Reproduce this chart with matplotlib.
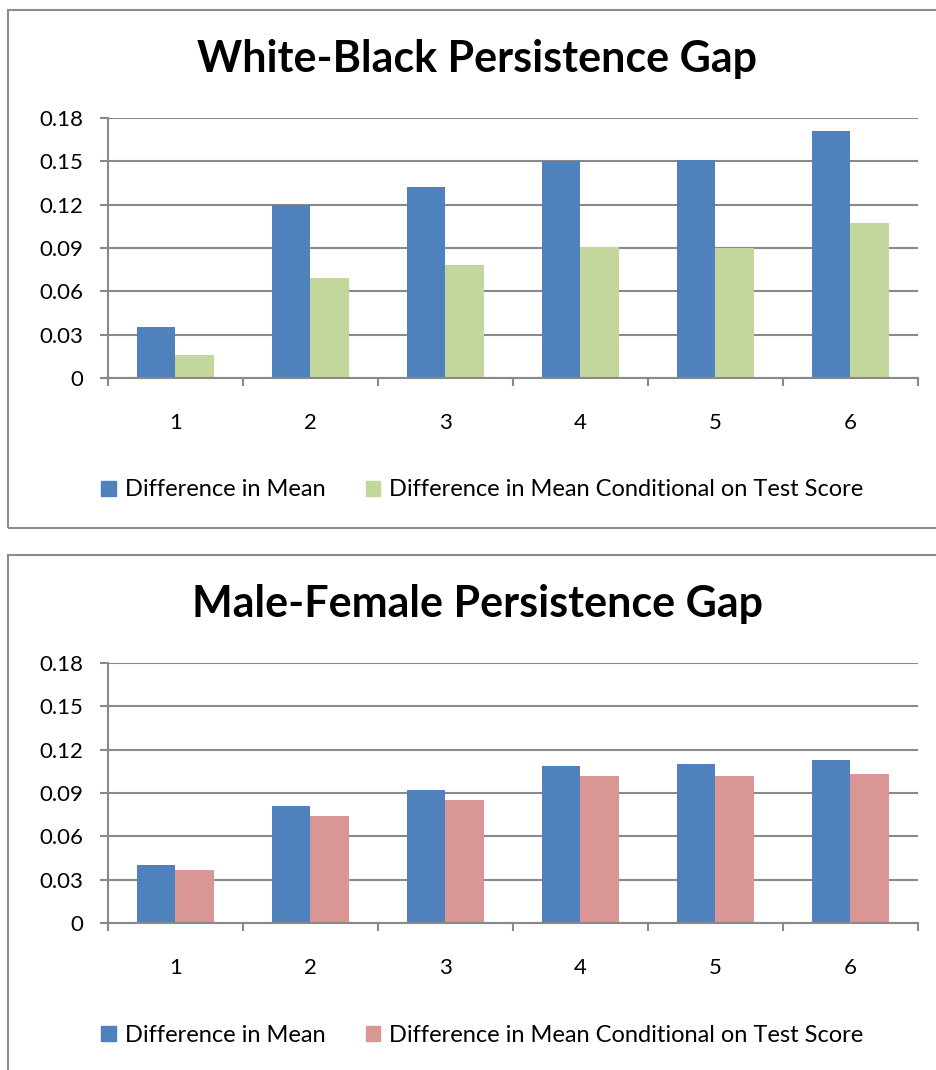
import matplotlib.pyplot as plt
import numpy as np
from matplotlib.patches import Rectangle, Patch

groups = ['1', '2', '3', '4', '5', '6']
series_names = ['Difference in Mean', 'Difference in Mean Conditional on Test Score']

wb_mean = [0.035, 0.120, 0.132, 0.150, 0.151, 0.171]
wb_cond = [0.016, 0.069, 0.078, 0.091, 0.090, 0.107]
mf_mean = [0.040, 0.081, 0.092, 0.109, 0.110, 0.113]
mf_cond = [0.037, 0.074, 0.085, 0.102, 0.102, 0.103]
y_ticks = [0, 0.03, 0.06, 0.09, 0.12, 0.15, 0.18]
y_labels = ['0', '0.03', '0.06', '0.09', '0.12', '0.15', '0.18']

blue = '#4F81BD'
green = '#C3D69B'
pink = '#D99694'
gray = '#898989'

plt.rcParams['font.family'] = ['Lato', 'DejaVu Sans']

W, H = 937, 1070
fig = plt.figure(figsize=(W / 100, H / 100), dpi=100)

# panel frames, in pixels of the final image
for top_px, bot_px in [(10, 528), (555, 1075)]:
    fig.patches.append(Rectangle((8 / W, 1 - bot_px / H), 1.0,
                                 (bot_px - top_px) / H,
                                 transform=fig.transFigure, fill=False,
                                 edgecolor='#8c8c8c', linewidth=1.5))


def draw_panel(off, title, mean, cond, cond_color):
    # off: vertical offset of the panel in pixels
    ax = fig.add_axes([108 / W, 1 - (378 + off) / H, 810 / W, 260 / H])
    x = np.arange(len(groups))
    w = 0.288
    ax.bar(x - w / 2, mean, width=w, color=blue, zorder=3)
    ax.bar(x + w / 2, cond, width=w, color=cond_color, zorder=3)
    ax.set_xlim(-0.5, len(groups) - 0.5)
    ax.set_ylim(0, 0.18)
    ax.set_yticks(y_ticks)
    ax.set_yticklabels(y_labels, fontsize=16)
    ax.set_xticks(np.arange(-0.5, len(groups), 1))
    ax.set_xticklabels([])
    ax.set_xticks(x, minor=True)
    ax.set_xticklabels(groups, minor=True, fontsize=16)
    ax.tick_params(axis='x', which='minor', length=0, pad=25)
    ax.tick_params(axis='x', which='major', length=6, width=1.5, color=gray, direction='out')
    ax.tick_params(axis='y', length=6, width=1.5, color=gray, pad=12)
    ax.yaxis.grid(True, color=gray, linewidth=1.5, zorder=0)
    ax.set_axisbelow(True)
    ax.spines[['top', 'right']].set_visible(False)
    ax.spines[['left', 'bottom']].set_color(gray)
    ax.spines[['left', 'bottom']].set_linewidth(1.5)
    ax.spines['bottom'].set_zorder(4)
    fig.text(477.5 / W, 1 - (72 + off) / H, title, ha='center', va='baseline',
             fontsize=31, fontweight='bold')
    handles = [Patch(color=blue), Patch(color=cond_color)]
    fig.legend(handles, series_names, loc='center', ncol=2,
               bbox_to_anchor=(482.5 / W, 1 - (490 + off) / H), frameon=False,
               fontsize=17, handlelength=0.6, handleheight=0.6,
               handletextpad=0.4, columnspacing=1.7)
    return ax


draw_panel(0, 'White-Black Persistence Gap', wb_mean, wb_cond, green)
draw_panel(545, 'Male-Female Persistence Gap', mf_mean, mf_cond, pink)

fig.savefig('out.png', dpi=100)
